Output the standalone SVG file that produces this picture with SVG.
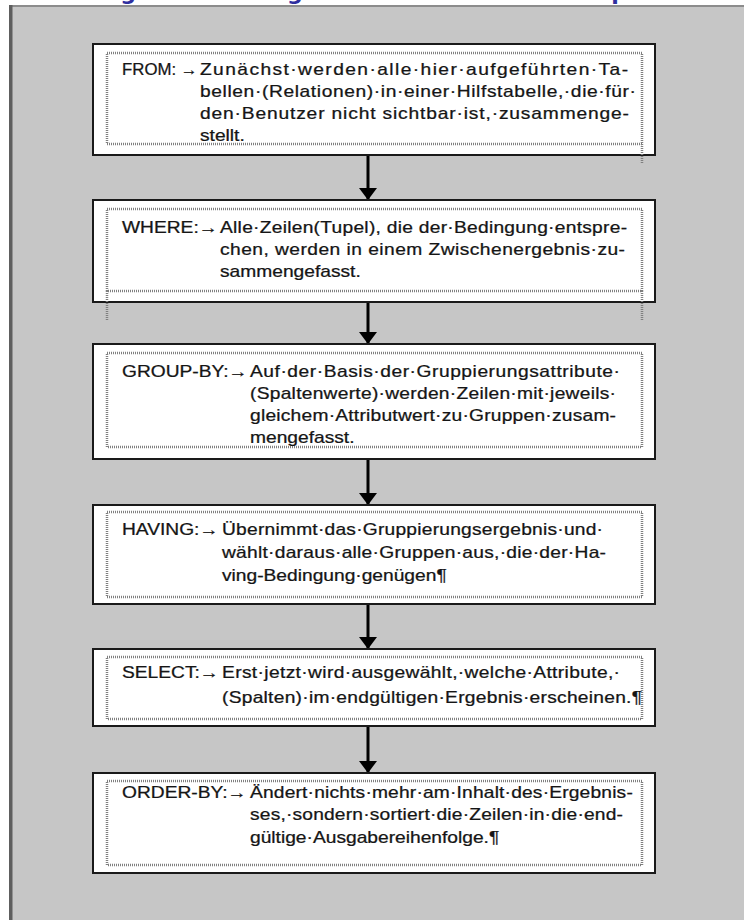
<svg xmlns="http://www.w3.org/2000/svg" width="744" height="920" viewBox="0 0 744 920">
<style>
.panel{fill:#c6c6c6}
.box{fill:#fff;stroke:#1a1a1a;stroke-width:2}
.dot{fill:none;stroke:#7f7f7f;stroke-width:2.5;stroke-dasharray:1 1}
.t{font-family:"Liberation Sans",Arial,sans-serif;font-size:16px;fill:#151515;stroke:#151515;stroke-width:0.25}
.title{font-family:"DejaVu Sans",sans-serif;font-weight:bold;font-size:22px;fill:#2f2f9f;letter-spacing:2.37px;word-spacing:-5.8px}
.conn{fill:none;stroke:#000;stroke-width:3;marker-end:url(#ah)}
</style>
<defs>
<marker id="ah" markerUnits="userSpaceOnUse" viewBox="0 0 12 18" markerWidth="12" markerHeight="18" refX="12" refY="9" orient="auto">
<path d="M0,0 L12,9 L0,18 z" fill="#000"/>
</marker>
</defs>
<rect x="0" y="0" width="744" height="920" fill="#fff"/>
<text class="title" x="-42" y="0">Abarbeitungsreihenfolge der Klauseln – Prinzip</text>
<rect class="panel" x="9" y="5" width="735" height="915"/>
<rect x="9" y="5" width="735" height="2" fill="#8c8c8c"/>
<rect x="9" y="5" width="3.5" height="915" fill="#5e5e5e"/>

<g id="connectors">
<path class="conn" d="M368,156 L368,200"/>
<path class="conn" d="M368,303 L368,344"/>
<path class="conn" d="M368,460 L368,505"/>
<path class="conn" d="M368,605 L368,649"/>
<path class="conn" d="M368,727 L368,773"/>
</g>

<g id="from">
<rect class="box" x="93" y="44" width="562" height="111"/>
<rect class="dot" x="107" y="53" width="535" height="91"/>
<path class="dot" d="M642,144 V163"/>
<text class="t" transform="translate(122,75) scale(1.2,1)" textLength="63" lengthAdjust="spacingAndGlyphs">FROM: →</text>
<text class="t" transform="translate(200,75) scale(1.2,1)" textLength="356.7" lengthAdjust="spacing">Zunächst·werden·alle·hier·aufgeführten·Ta-</text>
<text class="t" transform="translate(200,97) scale(1.2,1)" textLength="363.3" lengthAdjust="spacing">bellen·(Relationen)·in·einer·Hilfstabelle,·die·für·</text>
<text class="t" transform="translate(200,119) scale(1.2,1)" textLength="357.5" lengthAdjust="spacing">den·Benutzer nicht sichtbar·ist,·zusammenge-</text>
<text class="t" transform="translate(200,141) scale(1.2,1)">stellt.</text>
</g>

<g id="where">
<rect class="box" x="93" y="200" width="562" height="102"/>
<rect class="dot" x="107" y="209" width="535" height="82"/>
<path class="dot" d="M107,291 V321 M642,291 V321"/>
<text class="t" transform="translate(122,233) scale(1.2,1)">WHERE:→</text>
<text class="t" transform="translate(220,233) scale(1.2,1)" textLength="339.2" lengthAdjust="spacing">Alle·Zeilen(Tupel), die der·Bedingung·entspre-</text>
<text class="t" transform="translate(220,255) scale(1.2,1)" textLength="337.5" lengthAdjust="spacing">chen, werden in einem Zwischenergebnis·zu-</text>
<text class="t" transform="translate(220,277) scale(1.2,1)">sammengefasst.</text>
</g>

<g id="groupby">
<rect class="box" x="93" y="344" width="562" height="115"/>
<rect class="dot" x="107" y="353" width="535" height="94"/>
<text class="t" transform="translate(122,377) scale(1.2,1)">GROUP-BY:→</text>
<text class="t" transform="translate(250,377) scale(1.2,1)" textLength="308.3" lengthAdjust="spacing">Auf·der·Basis·der·Gruppierungsattribute·</text>
<text class="t" transform="translate(250,399) scale(1.2,1)" textLength="305" lengthAdjust="spacing">(Spaltenwerte)·werden·Zeilen·mit·jeweils·</text>
<text class="t" transform="translate(250,421) scale(1.2,1)" textLength="305" lengthAdjust="spacing">gleichem·Attributwert·zu·Gruppen·zusam-</text>
<text class="t" transform="translate(250,443) scale(1.2,1)">mengefasst.</text>
</g>

<g id="having">
<rect class="box" x="93" y="505" width="562" height="99"/>
<rect class="dot" x="107" y="512" width="535" height="85"/>
<text class="t" transform="translate(122,535) scale(1.2,1)">HAVING:→</text>
<text class="t" transform="translate(222,535) scale(1.2,1)" textLength="317.5" lengthAdjust="spacing">Übernimmt·das·Gruppierungsergebnis·und·</text>
<text class="t" transform="translate(222,558) scale(1.2,1)" textLength="320" lengthAdjust="spacing">wählt·daraus·alle·Gruppen·aus,·die·der·Ha-</text>
<text class="t" transform="translate(222,581) scale(1.2,1)">ving-Bedingung·genügen¶</text>
</g>

<g id="select">
<rect class="box" x="93" y="649" width="562" height="77"/>
<rect class="dot" x="107" y="657" width="535" height="62"/>
<text class="t" transform="translate(122,678) scale(1.2,1)">SELECT:→</text>
<text class="t" transform="translate(222,678) scale(1.2,1)" textLength="331.7" lengthAdjust="spacing">Erst·jetzt·wird·ausgewählt,·welche·Attribute,·</text>
<text class="t" transform="translate(222,703) scale(1.2,1)" textLength="350" lengthAdjust="spacing">(Spalten)·im·endgültigen·Ergebnis·erscheinen.¶</text>
</g>

<g id="orderby">
<rect class="box" x="93" y="773" width="562" height="100"/>
<rect class="dot" x="107" y="781" width="535" height="84"/>
<text class="t" transform="translate(122,798) scale(1.2,1)">ORDER-BY:→</text>
<text class="t" transform="translate(250,798) scale(1.2,1)" textLength="319" lengthAdjust="spacing">Ändert·nichts·mehr·am·Inhalt·des·Ergebnis-</text>
<text class="t" transform="translate(250,820) scale(1.2,1)" textLength="310.8" lengthAdjust="spacing">ses,·sondern·sortiert·die·Zeilen·in·die·end-</text>
<text class="t" transform="translate(250,843) scale(1.2,1)">gültige·Ausgabereihenfolge.¶</text>
</g>
</svg>
